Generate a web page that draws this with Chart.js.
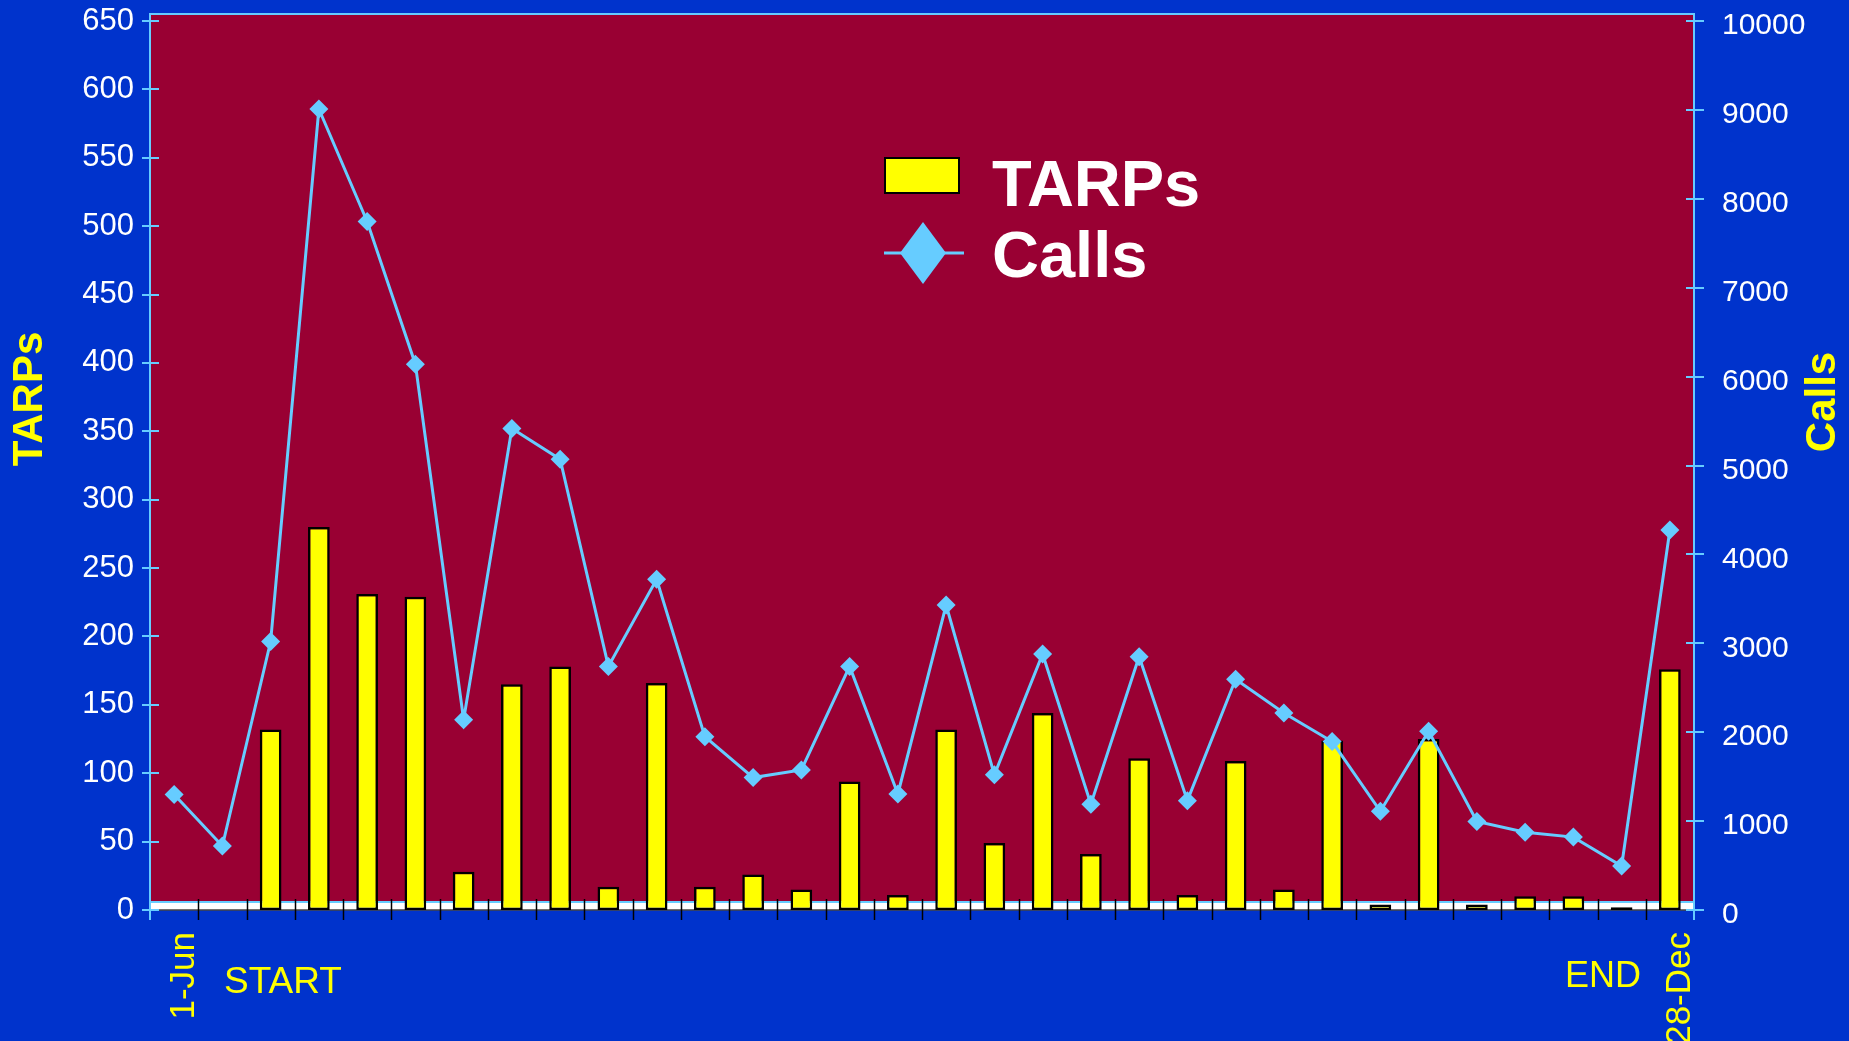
<!DOCTYPE html>
<html>
<head>
<meta charset="utf-8">
<title>TARPs and Calls</title>
<script src="https://cdn.jsdelivr.net/npm/chart.js@4/dist/chart.umd.min.js"></script>
<style>
  html, body { margin: 0; padding: 0; background: #0033CC; overflow: hidden; }
  canvas { display: block; background: #0033CC; }
</style>
</head>
<body>
<canvas id="chart" width="1849" height="1041"></canvas>
<script>
// Weekly categories, first and last dates labelled
const weeks = ['1-Jun', '', '', '', '', '', '', '', '', '', '', '', '', '', '', '',
               '', '', '', '', '', '', '', '', '', '', '', '', '', '', '', '28-Dec'];

// TARPs handed out per week (left axis)
const tarps = [0, 0, 132, 280, 231, 229, 28, 165, 178, 17, 166, 17, 26, 15, 94, 11,
               132, 49, 144, 41, 111, 11, 109, 15, 124, 4, 125, 4, 10, 10, 2, 176];

// Calls received per week (right axis)
const calls = [1300, 720, 3020, 9010, 7745, 6140, 2140, 5415, 5070, 2740, 3720, 1950, 1490, 1575, 2740, 1305,
               3430, 1520, 2880, 1190, 2850, 1230, 2595, 2215, 1895, 1110, 2010, 995, 875, 820, 495, 4275];

const BLUE = '#0033CC';
const PLOT_RED = '#990033';
const SKY = '#66CCFF';
const YELLOW = '#FFFF00';
const FONT = '"Liberation Sans", Arial, Helvetica, sans-serif';

// Plot area background, floor band and frame
const plotFrame = {
  id: 'plotFrame',
  beforeDatasetsDraw(chart) {
    const { ctx, chartArea: a } = chart;
    ctx.save();
    ctx.fillStyle = PLOT_RED;
    ctx.fillRect(a.left, a.top - 7, a.right - a.left, a.bottom - a.top + 7);
    // white floor strip along the zero line
    ctx.fillStyle = '#FFFFFF';
    ctx.fillRect(a.left, a.bottom - 7, a.right - a.left, 7);
    ctx.strokeStyle = SKY;
    ctx.lineWidth = 2;
    ctx.beginPath();
    ctx.moveTo(a.left, a.bottom - 8);
    ctx.lineTo(a.right, a.bottom - 8);
    ctx.stroke();
    ctx.strokeStyle = '#444444';
    ctx.lineWidth = 1.5;
    ctx.beginPath();
    ctx.moveTo(a.left, a.bottom);
    ctx.lineTo(a.right, a.bottom);
    ctx.stroke();
    // frame
    ctx.strokeStyle = SKY;
    ctx.lineWidth = 2;
    ctx.beginPath();
    ctx.moveTo(a.left, a.bottom + 10);
    ctx.lineTo(a.left, a.top - 7);
    ctx.lineTo(a.right, a.top - 7);
    ctx.lineTo(a.right, a.bottom + 10);
    ctx.stroke();
    ctx.restore();
  },
  afterDraw(chart) {
    const { ctx, chartArea: a, scales } = chart;
    const x = scales.x, yl = scales.y, yr = scales.y1;
    ctx.save();
    // category separators crossing the zero line
    ctx.strokeStyle = '#000000';
    ctx.lineWidth = 1.5;
    const half = (x.getPixelForValue(1) - x.getPixelForValue(0)) / 2;
    for (let i = 1; i < weeks.length; i++) {
      const px = Math.round(x.getPixelForValue(i) - half) + 0.5;
      ctx.beginPath();
      ctx.moveTo(px, a.bottom - 11);
      ctx.lineTo(px, a.bottom + 10);
      ctx.stroke();
    }
    // value ticks straddling both vertical axes
    ctx.strokeStyle = SKY;
    ctx.lineWidth = 2;
    yl.ticks.forEach(t => {
      const py = Math.round(yl.getPixelForValue(t.value));
      ctx.beginPath();
      ctx.moveTo(a.left - 8, py);
      ctx.lineTo(a.left + 9, py);
      ctx.stroke();
    });
    yr.ticks.forEach(t => {
      const py = Math.round(yr.getPixelForValue(t.value));
      ctx.beginPath();
      ctx.moveTo(a.right - 8, py);
      ctx.lineTo(a.right + 10, py);
      ctx.stroke();
    });

    // axis titles
    ctx.fillStyle = YELLOW;
    ctx.font = 'bold 42px ' + FONT;
    ctx.textAlign = 'center';
    ctx.textBaseline = 'middle';
    ctx.save();
    ctx.translate(30, 399);
    ctx.rotate(-Math.PI / 2);
    ctx.fillText('TARPs', 0, 0);
    ctx.restore();
    ctx.save();
    ctx.translate(1823, 402);
    ctx.rotate(-Math.PI / 2);
    ctx.fillText('Calls', 0, 0);
    ctx.restore();

    // START / END markers under the axis
    ctx.textAlign = 'left';
    ctx.textBaseline = 'alphabetic';
    ctx.font = '37px ' + FONT;
    ctx.fillText('START', 224, 993);
    ctx.font = '36px ' + FONT;
    ctx.fillText('END', 1565, 987);

    // legend inside the plot
    ctx.fillStyle = YELLOW;
    ctx.fillRect(885, 158, 74, 35);
    ctx.strokeStyle = '#000000';
    ctx.lineWidth = 2;
    ctx.strokeRect(885, 158, 74, 35);
    ctx.strokeStyle = SKY;
    ctx.lineWidth = 3;
    ctx.beginPath();
    ctx.moveTo(884, 253);
    ctx.lineTo(964, 253);
    ctx.stroke();
    ctx.fillStyle = SKY;
    ctx.beginPath();
    ctx.moveTo(923, 222);
    ctx.lineTo(946, 253);
    ctx.lineTo(923, 284);
    ctx.lineTo(900, 253);
    ctx.closePath();
    ctx.fill();
    ctx.fillStyle = '#FFFFFF';
    ctx.font = 'bold 65px ' + FONT;
    ctx.fillText('TARPs', 992, 206);
    ctx.fillText('Calls', 992, 277);
    ctx.restore();
  }
};

// Vertical scales: fixed widths and no extra label padding above/below the plot
function fixVertical(width) {
  return function (scale) {
    scale.width = width;
    scale.paddingTop = 0;
    scale.paddingBottom = 0;
  };
}

new Chart(document.getElementById('chart'), {
  type: 'bar',
  data: {
    labels: weeks,
    datasets: [
      {
        type: 'line',
        label: 'Calls',
        data: calls,
        yAxisID: 'y1',
        order: 1,
        borderColor: SKY,
        backgroundColor: SKY,
        borderWidth: 3,
        tension: 0,
        pointStyle: 'rectRot',
        pointRadius: 9.5,
        pointBorderWidth: 0,
        pointBackgroundColor: SKY
      },
      {
        type: 'bar',
        label: 'TARPs',
        data: tarps,
        yAxisID: 'y',
        order: 2,
        backgroundColor: YELLOW,
        borderColor: '#000000',
        borderWidth: 2.5,
        borderSkipped: false,
        barPercentage: 0.45,
        categoryPercentage: 1.0
      }
    ]
  },
  options: {
    responsive: false,
    animation: false,
    devicePixelRatio: 1,
    layout: { padding: { top: 21, left: 0, right: 0, bottom: 0 } },
    plugins: {
      legend: { display: false },
      tooltip: { enabled: false }
    },
    scales: {
      x: {
        type: 'category',
        offset: true,
        grid: { display: false },
        border: { display: false },
        ticks: {
          autoSkip: false,
          maxRotation: 90,
          minRotation: 90,
          padding: 14,
          labelOffset: 10,
          color: YELLOW,
          font: { family: FONT, size: 35 }
        },
        afterFit(scale) {
          scale.height = 131;
          scale.paddingLeft = 0;
          scale.paddingRight = 0;
        }
      },
      y: {
        position: 'left',
        min: 0,
        max: 650,
        grid: { display: false },
        border: { display: false },
        ticks: {
          stepSize: 50,
          padding: 8,
          color: '#FFFFFF',
          font: { family: FONT, size: 31 }
        },
        afterFit: fixVertical(150)
      },
      y1: {
        position: 'right',
        min: 0,
        max: 10000,
        grid: { display: false },
        border: { display: false },
        ticks: {
          stepSize: 1000,
          padding: 20,
          labelOffset: 5,
          color: '#FFFFFF',
          font: { family: FONT, size: 30 },
          callback: v => String(v)
        },
        afterFit: fixVertical(155)
      }
    }
  },
  plugins: [plotFrame]
});
</script>
</body>
</html>
